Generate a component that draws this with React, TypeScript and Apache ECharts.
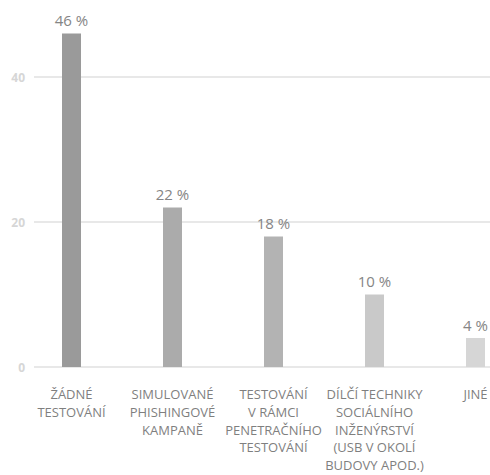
import React, { useEffect, useRef } from "react";
import * as echarts from "echarts";

const categories = [
  "ŽÁDNÉ\nTESTOVÁNÍ",
  "SIMULOVANÉ\nPHISHINGOVÉ\nKAMPANĚ",
  "TESTOVÁNÍ\nV RÁMCI\nPENETRAČNÍHO\nTESTOVÁNÍ",
  "DÍLČÍ TECHNIKY\nSOCIÁLNÍHO\nINŽENÝRSTVÍ\n(USB V OKOLÍ\nBUDOVY APOD.)",
  "JINÉ",
];
const values = [46, 22, 18, 10, 4];
const barColors = ["#9a9a9a", "#ababab", "#b3b3b3", "#c9c9c9", "#d6d6d6"];

export default function App() {
  const ref = useRef<HTMLDivElement>(null);
  useEffect(() => {
    if (!ref.current) return;
    const chart = echarts.init(ref.current, undefined, { renderer: "svg" });
    const font = "'Open Sans', sans-serif";
    chart.setOption({
      animation: false,
      backgroundColor: "#ffffff",
      grid: [
        { left: 71.5, right: 14.5, top: 77, bottom: 108, containLabel: false, outerBoundsMode: "none" },
        { left: 34, right: 0, top: 77, bottom: 108, containLabel: false, outerBoundsMode: "none" },
      ],
      xAxis: [
        {
          type: "category",
          gridIndex: 0,
          data: categories,
          boundaryGap: false,
          axisLine: { show: false },
          axisTick: { show: false },
          splitLine: { show: false },
          axisLabel: {
            interval: 0,
            color: "#7f7f7f",
            fontFamily: font,
            fontSize: 13,
            lineHeight: 17.6,
            margin: 18.5,
            align: "center",
            hideOverlap: false,
          },
        },
        { type: "value", gridIndex: 1, show: false, min: 0, max: 1 },
      ],
      yAxis: [
        {
          type: "value",
          gridIndex: 0,
          min: 0,
          max: 40,
          interval: 20,
          show: false,
        },
        {
          type: "value",
          gridIndex: 1,
          min: 0,
          max: 40,
          interval: 20,
          axisLine: { show: false },
          axisTick: { show: false },
          splitLine: { show: true, lineStyle: { color: "#e8e8e8", width: 2 } },
          axisLabel: {
            color: "#d6d6d6",
            fontWeight: "bold",
            fontFamily: font,
            fontSize: 12,
            margin: 9,
          },
        },
      ],
      series: [
        {
          type: "bar",
          xAxisIndex: 0,
          yAxisIndex: 0,
          clip: false,
          barWidth: 19,
          z: 3,
          data: values.map((v, i) => ({ value: v, itemStyle: { color: barColors[i] } })),
          label: {
            show: true,
            position: "top",
            distance: 6,
            formatter: "{c} %",
            color: "#858585",
            fontFamily: font,
            fontSize: 15,
          },
        },
      ],
    });
    return () => chart.dispose();
  }, []);
  return (
    <div
      ref={ref}
      style={{ position: "fixed", left: 0, top: 0, width: 490, height: 475 }}
    />
  );
}
